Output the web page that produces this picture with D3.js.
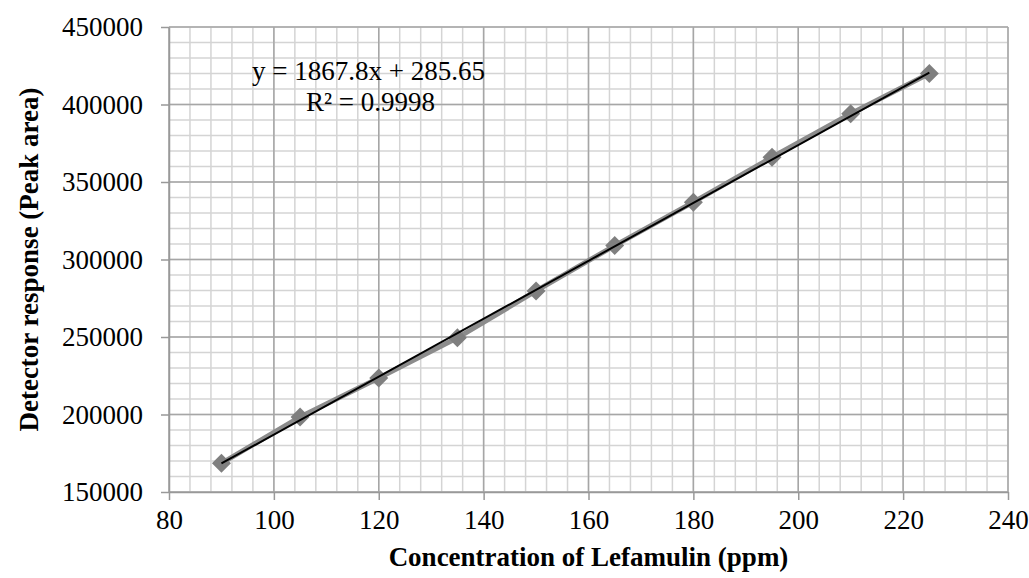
<!DOCTYPE html>
<html>
<head>
<meta charset="utf-8">
<script src="https://cdn.jsdelivr.net/npm/d3@7"></script>
<style>
  body { margin: 0; background: #fff; }
  text { font-family: "Liberation Serif", "Times New Roman", serif; }
</style>
</head>
<body>
<div id="chart"></div>
<script>
// calibration data
const concentrations = [90, 105, 120, 135, 150, 165, 180, 195, 210, 225];
const peakAreas = [168500, 198400, 223500, 249500, 279700, 309000, 337000, 366000, 394000, 420000];
const xTicks = [80, 100, 120, 140, 160, 180, 200, 220, 240];
const yTicks = [150000, 200000, 250000, 300000, 350000, 400000, 450000];
const slope = 1867.8, intercept = 285.65;
const equationLines = ["y = 1867.8x + 285.65", "R² = 0.9998"];

const width = 1029, height = 578;
const margin = { top: 27, right: 21, bottom: 86, left: 169 };
const innerWidth = width - margin.left - margin.right;
const innerHeight = height - margin.top - margin.bottom;

const svg = d3.select("#chart")
    .append("svg")
    .attr("width", width)
    .attr("height", height);

const g = svg.append("g")
    .attr("transform", `translate(${margin.left},${margin.top})`);

const x = d3.scaleLinear().domain([80, 240]).range([0, innerWidth]);
const y = d3.scaleLinear().domain([150000, 450000]).range([innerHeight, 0]);

// minor gridlines
const xMinor = d3.range(80, 240.01, 4);
const yMinor = d3.range(150000, 450001, 10000);

g.append("g").selectAll("line")
    .data(xMinor)
    .enter().append("line")
    .attr("x1", d => x(d)).attr("x2", d => x(d))
    .attr("y1", 0).attr("y2", innerHeight)
    .style("stroke", "#d4d4d4")
    .style("stroke-width", 1.5);

g.append("g").selectAll("line")
    .data(yMinor)
    .enter().append("line")
    .attr("x1", 0).attr("x2", innerWidth)
    .attr("y1", d => y(d)).attr("y2", d => y(d))
    .style("stroke", "#d4d4d4")
    .style("stroke-width", 1.5);

// major gridlines
g.append("g").selectAll("line")
    .data(xTicks)
    .enter().append("line")
    .attr("x1", d => x(d)).attr("x2", d => x(d))
    .attr("y1", 0).attr("y2", innerHeight)
    .style("stroke", "#a6a6a6")
    .style("stroke-width", 1.5);

g.append("g").selectAll("line")
    .data(yTicks)
    .enter().append("line")
    .attr("x1", 0).attr("x2", innerWidth)
    .attr("y1", d => y(d)).attr("y2", d => y(d))
    .style("stroke", "#a6a6a6")
    .style("stroke-width", 1.5);

// axes
const xAxis = g.append("g")
    .attr("transform", `translate(0,${innerHeight})`)
    .call(d3.axisBottom(x).tickValues(xTicks).tickSize(8).tickPadding(10).tickSizeOuter(0));

const yAxis = g.append("g")
    .call(d3.axisLeft(y).tickValues(yTicks).tickFormat(d3.format("d"))
        .tickSize(8).tickPadding(18).tickSizeOuter(0));

[xAxis, yAxis].forEach(a => {
    a.select(".domain").style("stroke", "#999").style("stroke-width", 1.5);
    a.selectAll(".tick line").style("stroke", "#999").style("stroke-width", 1.5);
    a.selectAll(".tick text")
        .style("font-family", '"Liberation Serif", "Times New Roman", serif')
        .style("font-size", "27px")
        .style("fill", "#000");
});

// series line with markers
const points = concentrations.map((c, i) => ({ x: c, y: peakAreas[i] }));

g.append("path")
    .datum(points)
    .attr("fill", "none")
    .attr("stroke", "#8c8c8c")
    .attr("stroke-width", 5)
    .attr("d", d3.line().x(d => x(d.x)).y(d => y(d.y)));

g.selectAll(".marker")
    .data(points)
    .enter().append("path")
    .attr("class", "marker")
    .attr("transform", d => `translate(${x(d.x)},${y(d.y)})`)
    .attr("d", d3.symbol().type(d3.symbolDiamond2).size(230))
    .style("fill", "#7f7f7f");

// linear trendline
const xr = d3.extent(concentrations);
g.append("line")
    .attr("x1", x(xr[0])).attr("y1", y(slope * xr[0] + intercept))
    .attr("x2", x(xr[1])).attr("y2", y(slope * xr[1] + intercept))
    .style("stroke", "#000")
    .style("stroke-width", 2);

// equation label
svg.append("text")
    .attr("x", 252).attr("y", 80)
    .style("font-size", "27px")
    .text(equationLines[0]);

svg.append("text")
    .attr("x", 306).attr("y", 111)
    .style("font-size", "27px")
    .text(equationLines[1]);

// axis titles
svg.append("text")
    .attr("x", margin.left + innerWidth / 2)
    .attr("y", 566)
    .attr("text-anchor", "middle")
    .style("font-size", "27px")
    .style("font-weight", "bold")
    .text("Concentration of Lefamulin (ppm)");

svg.append("text")
    .attr("transform", `translate(38,${margin.top + innerHeight / 2}) rotate(-90)`)
    .attr("text-anchor", "middle")
    .style("font-size", "27px")
    .style("font-weight", "bold")
    .text("Detector response (Peak area)");
</script>
</body>
</html>
